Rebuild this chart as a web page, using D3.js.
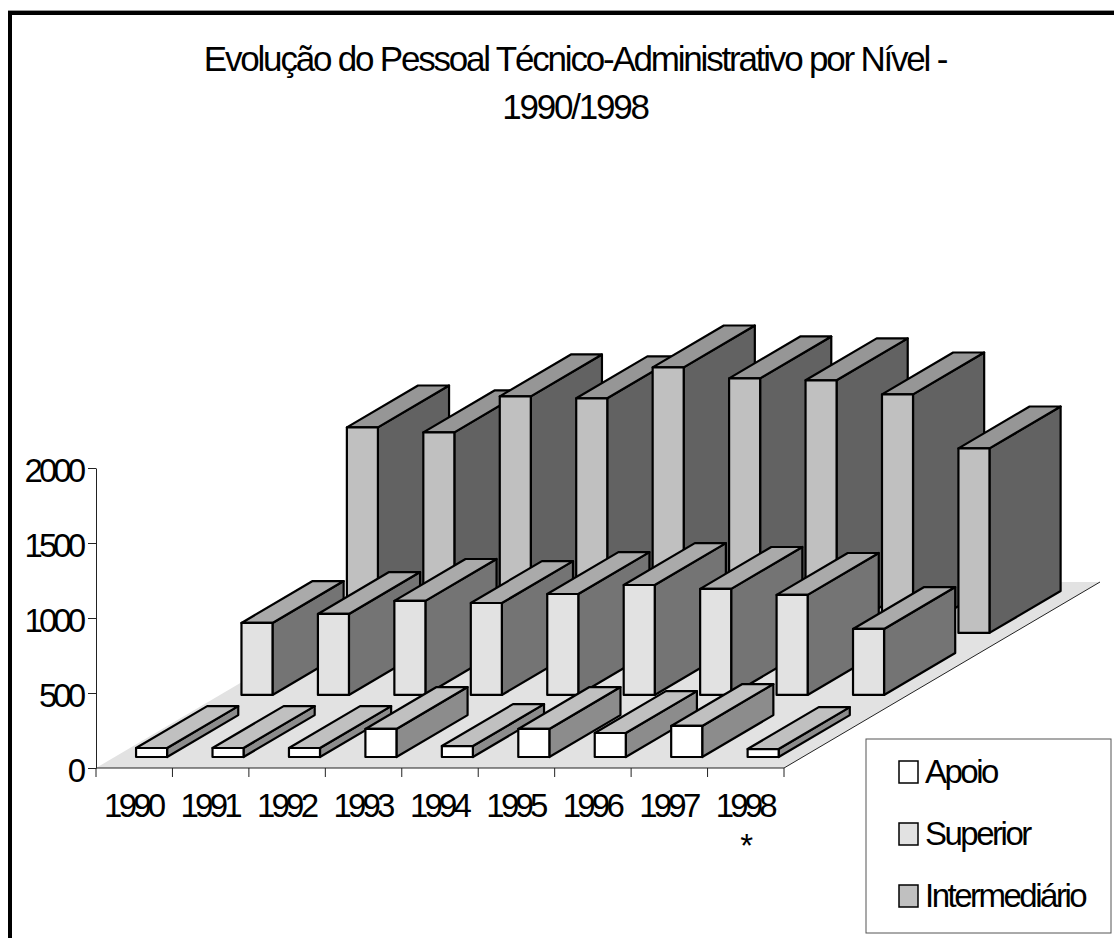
<!DOCTYPE html>
<html>
<head>
<meta charset="utf-8">
<script src="https://cdn.jsdelivr.net/npm/d3@7"></script>
<style>
  html, body { margin: 0; padding: 0; background: #fff; }
  svg { display: block; }
  text { font-family: "Liberation Sans", Arial, sans-serif; fill: #000; }
</style>
</head>
<body>
<div id="chart"></div>
<script>
const years = ['1990', '1991', '1992', '1993', '1994', '1995', '1996', '1997', '1998'];
const yearLabels = [['1990'], ['1991'], ['1992'], ['1993'], ['1994'], ['1995'], ['1996'], ['1997'], ['1998', '*']];
const seriesNames = ['Apoio', 'Superior', 'Intermediário'];
const apoio = [60, 60, 60, 187, 73, 187, 160, 207, 53];
const superior = [480, 540, 627, 613, 673, 733, 707, 667, 440];
const intermediario = [1370, 1337, 1577, 1564, 1770, 1697, 1684, 1590, 1230];
const yTicks = [0, 500, 1000, 1500, 2000];
const titleLines = ['Evolução do Pessoal Técnico-Administrativo por Nível -', '1990/1998'];

const colorRule = {
  'Apoio': {front: '#ffffff', top: '#c0c0c0', side: '#8c8c8c'},
  'Superior': {front: '#e2e2e2', top: '#aaaaaa', side: '#747474'},
  'Intermediário': {front: '#c0c0c0', top: '#969696', side: '#626262'}
};
const legendColor = {'Apoio': '#ffffff', 'Superior': '#e2e2e2', 'Intermediário': '#c0c0c0'};
const values = {'Apoio': apoio, 'Superior': superior, 'Intermediário': intermediario};

const width_svg = 1114, height_svg = 938;
const svg = d3.select('#chart').append('svg')
              .attr('width', width_svg)
              .attr('height', height_svg);

// frame, cut by the page on the right and at the bottom
svg.append('rect').attr('x', 8).attr('y', 10).attr('width', width_svg).attr('height', 1).attr('fill', '#999');
svg.append('path')
   .attr('d', `M10,${height_svg} V13 H${width_svg}`)
   .attr('fill', 'none')
   .attr('stroke', '#000')
   .attr('stroke-width', 4);

// title
svg.append('g').selectAll('text')
   .data(titleLines)
   .enter().append('text')
   .attr('x', 575)
   .attr('y', (d, i) => 71 + i * 48)
   .attr('text-anchor', 'middle')
   .attr('font-size', 35)
   .attr('letter-spacing', -2.2)
   .text(d => d);

const xScale = d3.scaleBand()
                 .domain(years)
                 .range([96, 784])
                 .paddingInner(0.594)
                 .paddingOuter(0.297)
                 .align(0.47);
const yScale = d3.scaleLinear().domain([0, 2000]).range([768, 468]);
const zScale = d3.scaleBand()
                 .domain(seriesNames)
                 .range([0, 1])
                 .paddingInner(0.325)
                 .paddingOuter(0.1615)
                 .align(0.55);
// depth runs back to the right along the floor
const depthX = d3.scaleLinear().domain([0, 1]).range([0, 316]);
const depthY = d3.scaleLinear().domain([0, 1]).range([0, -186]);

const step = xScale.step();
const x0 = xScale.range()[0], x1 = xScale.range()[1];
const y0 = yScale(0);

// floor
svg.append('path')
   .attr('d', d3.line()([
     [x0, y0], [x1, y0],
     [x1 + depthX(1), y0 + depthY(1)],
     [x0 + depthX(1), y0 + depthY(1)]
   ]) + 'Z')
   .attr('fill', '#e2e2e2');
svg.append('line')
   .attr('x1', x1).attr('y1', y0)
   .attr('x2', x1 + depthX(1)).attr('y2', y0 + depthY(1))
   .attr('stroke', '#222').attr('stroke-width', 1);

// bars: back series first, left to right inside each series
const g_bars = svg.append('g')
                  .attr('stroke', '#000')
                  .attr('stroke-width', 2.2)
                  .attr('stroke-linejoin', 'round');
seriesNames.slice().reverse().forEach(name => {
  years.forEach((year, i) => {
    const t = zScale(name), b = zScale.bandwidth(), w = xScale.bandwidth();
    const left = xScale(year) + depthX(t), right = left + w;
    const base = y0 + depthY(t), top = yScale(values[name][i]) + depthY(t);
    const dx = depthX(t + b) - depthX(t), dy = depthY(t + b) - depthY(t);
    const line = d3.line();
    g_bars.append('path')
          .attr('fill', colorRule[name].side)
          .attr('d', line([[right, base], [right, top], [right + dx, top + dy], [right + dx, base + dy]]) + 'Z');
    g_bars.append('path')
          .attr('fill', colorRule[name].top)
          .attr('d', line([[left, top], [right, top], [right + dx, top + dy], [left + dx, top + dy]]) + 'Z');
    g_bars.append('path')
          .attr('fill', colorRule[name].front)
          .attr('d', line([[left, base], [left, top], [right, top], [right, base]]) + 'Z');
  });
});

// axes
const axisColor = '#222';
const g_y = svg.append('g').attr('transform', `translate(${x0}, 0)`)
               .call(d3.axisLeft(yScale).tickValues(yTicks).tickSize(8).tickSizeOuter(0).tickFormat(d3.format('d')));
g_y.select('.domain').attr('stroke', axisColor);
g_y.selectAll('.tick line').attr('stroke', axisColor);
g_y.selectAll('.tick text')
   .attr('font-family', '"Liberation Sans", Arial, sans-serif')
   .attr('font-size', 33)
   .attr('letter-spacing', -4)
   .attr('x', -14)
   .attr('dy', '.4em');

const g_x = svg.append('g').attr('transform', `translate(0, ${y0})`);
g_x.append('line').attr('x1', x0).attr('x2', x1).attr('stroke', axisColor);
g_x.selectAll('.tick')
   .data(d3.range(years.length + 1))
   .enter().append('line')
   .attr('class', 'tick')
   .attr('x1', d => x0 + d * step).attr('x2', d => x0 + d * step)
   .attr('y1', 0).attr('y2', 9)
   .attr('stroke', axisColor);
yearLabels.forEach((lines, i) => {
  g_x.selectAll(null)
     .data(lines)
     .enter().append('text')
     .attr('x', x0 + (i + 0.5) * step - 1)
     .attr('y', (d, j) => 49 + j * 40)
     .attr('text-anchor', 'middle')
     .attr('font-size', 33)
     .attr('letter-spacing', -3.8)
     .text(d => d);
});

// legend
const g_legend = svg.append('g').attr('transform', 'translate(866, 739)');
g_legend.append('rect')
        .attr('width', 245).attr('height', 194)
        .attr('fill', '#fff').attr('stroke', '#555').attr('stroke-width', 1);
const legendY = d3.scalePoint().domain(seriesNames).range([33, 157]);
g_legend.selectAll('rect.key')
        .data(seriesNames)
        .enter().append('rect')
        .attr('class', 'key')
        .attr('x', 33)
        .attr('y', d => legendY(d) - 11)
        .attr('width', 19).attr('height', 22)
        .attr('fill', d => legendColor[d])
        .attr('stroke', '#000').attr('stroke-width', 1.5);
g_legend.selectAll('text')
        .data(seriesNames)
        .enter().append('text')
        .attr('x', 59)
        .attr('y', d => legendY(d) + 11)
        .attr('font-size', 33)
        .attr('letter-spacing', -2.5)
        .text(d => d);
</script>
</body>
</html>
